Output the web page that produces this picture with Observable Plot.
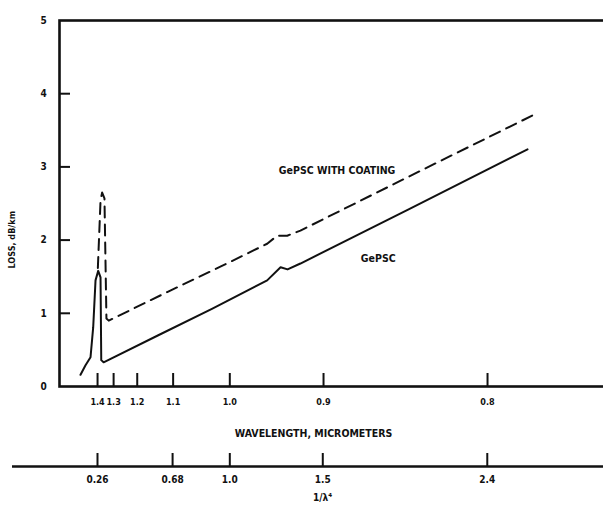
<!DOCTYPE html>
<html>
<head>
<meta charset="utf-8">
<script src="https://cdn.jsdelivr.net/npm/d3@7"></script>
<script src="https://cdn.jsdelivr.net/npm/@observablehq/plot@0.6"></script>
<style>
  html, body { margin: 0; padding: 0; background: #fff; }
  #chart svg { display: block; }
</style>
</head>
<body>
<div id="chart"></div>
<script>
// x axis is linear in 1/λ⁴ (λ in micrometers)
const solidU    = [0.165, 0.193, 0.221, 0.236, 0.249, 0.264, 0.277, 0.281, 0.294, 0.60, 0.90, 1.209, 1.284, 1.323, 1.395, 2.00, 2.665];
const solidLoss = [0.16,  0.29,  0.40,  0.81,  1.45,  1.58,  1.49,  0.36,  0.33,  0.70, 1.06, 1.45,  1.63,  1.60,  1.68,  2.42, 3.24];
const dashedU    = [0.262, 0.277, 0.286, 0.299, 0.310, 0.323, 0.650, 0.95, 1.209, 1.265, 1.321, 1.395, 2.160, 2.691];
const dashedLoss = [1.62,  2.54,  2.65,  2.57,  0.93,  0.90,  1.29,  1.64, 1.95,  2.06,  2.06,  2.13,  3.06,  3.70];

const yTicks = [0, 1, 2, 3, 4, 5];
const wavelengthTicks = [1.4, 1.3, 1.2, 1.1, 1.0, 0.9, 0.8];
const wavelengthLabels = ["1.4", "1.3", "1.2", "1.1", "1.0", "0.9", "0.8"];
const invTicks = [0.26, 0.68, 1.0, 1.52, 2.44];
const invLabels = ["0.26", "0.68", "1.0", "1.5", "2.4"];
const seriesLabels = ["GePSC WITH COATING", "GePSC"];
const labelU = [1.60, 1.83];
const labelLoss = [2.95, 1.75];

const solid = solidU.map((u, i) => ({u, loss: solidLoss[i]}));
const dashed = dashedU.map((u, i) => ({u, loss: dashedLoss[i]}));
const wl = wavelengthTicks.map((w, i) => ({u: 1 / w ** 4, label: wavelengthLabels[i]}));
const inv = invTicks.map((u, i) => ({u, label: invLabels[i]}));
const curveLabels = seriesLabels.map((t, i) => ({t, u: labelU[i], loss: labelLoss[i]}));

const font = "'DejaVu Sans Condensed', 'Liberation Sans Narrow', 'DejaVu Sans', sans-serif";
const W = 603, H = 510, mL = 59, mR = 0, mT = 20, mB = 124;
const frameW = W - mL - mR, frameH = H - mT - mB;

const chart = Plot.plot({
  width: W, height: H,
  marginLeft: mL, marginRight: mR, marginTop: mT, marginBottom: mB,
  style: {fontFamily: font, fontWeight: "bold", fontSize: "10px", color: "#111", background: "#fff"},
  x: {domain: [0.0475, 3.09], axis: null},
  y: {domain: [0, 5], axis: null},
  marks: [
    Plot.frame({stroke: "#111", strokeWidth: 2.6, insetRight: -6}),
    // y ticks (inward) and labels
    Plot.ruleY(yTicks.slice(1, -1), {stroke: "#111", strokeWidth: 2, insetRight: frameW - 11}),
    Plot.text(yTicks, {y: d => d, text: d => String(d), frameAnchor: "left", dx: -19, fontSize: 10}),
    Plot.text(["LOSS, dB/km"], {frameAnchor: "left", dx: -47, dy: 65, rotate: -90, fontSize: 9}),
    // wavelength axis (ticks up from the bottom line)
    Plot.ruleX(wl, {x: "u", stroke: "#111", strokeWidth: 2, insetTop: frameH - 13}),
    Plot.text(wl, {x: "u", text: "label", frameAnchor: "bottom", dy: 18, fontSize: 9, letterSpacing: "-0.6px"}),
    Plot.text(["WAVELENGTH, MICROMETERS"], {frameAnchor: "bottom", dx: -18, dy: 50, fontSize: 10.5}),
    // 1/λ⁴ axis
    Plot.ruleY([0], {stroke: "#111", strokeWidth: 2.4, dy: 80, insetLeft: -47}),
    Plot.ruleX(inv, {x: "u", stroke: "#111", strokeWidth: 2, insetTop: frameH - 13, dy: 80}),
    Plot.text(inv, {x: "u", text: "label", frameAnchor: "bottom", dy: 96, fontSize: 10}),
    Plot.text(["1/λ⁴"], {frameAnchor: "bottom", dx: -9, dy: 114, fontSize: 10}),
    // curves
    Plot.line(dashed, {x: "u", y: "loss", stroke: "#111", strokeWidth: 2, strokeDasharray: "11,7"}),
    Plot.line(solid, {x: "u", y: "loss", stroke: "#111", strokeWidth: 2}),
    Plot.text(curveLabels, {x: "u", y: "loss", text: "t", fontSize: 10.5})
  ]
});
document.getElementById("chart").appendChild(chart);
</script>
</body>
</html>
